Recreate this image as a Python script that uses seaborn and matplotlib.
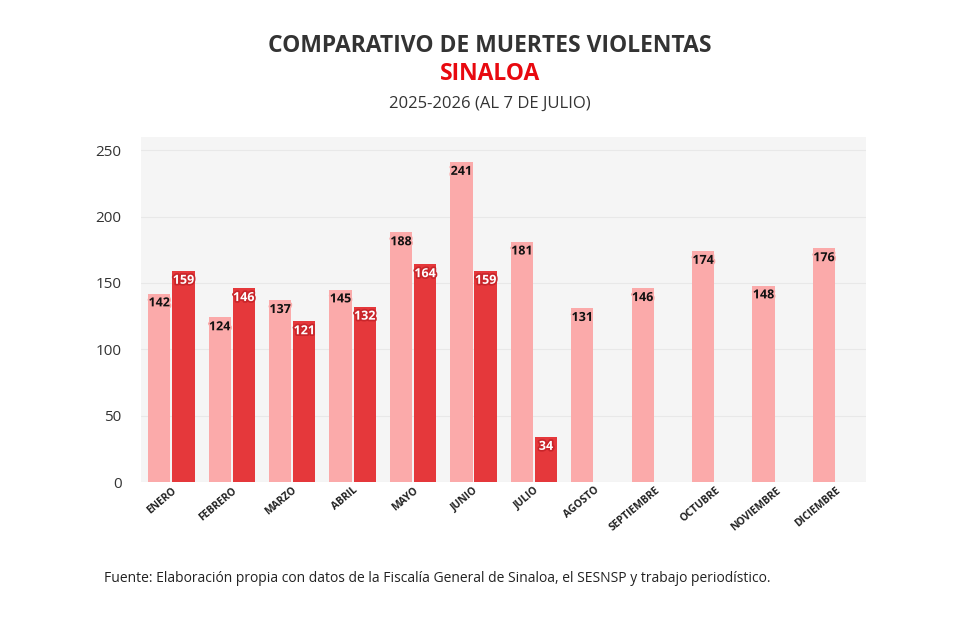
import numpy as np
import pandas as pd
import matplotlib.pyplot as plt
import matplotlib.patheffects as pe
import seaborn as sns

meses = ["ENERO", "FEBRERO", "MARZO", "ABRIL", "MAYO", "JUNIO", "JULIO",
         "AGOSTO", "SEPTIEMBRE", "OCTUBRE", "NOVIEMBRE", "DICIEMBRE"]
v2025 = [142, 124, 137, 145, 188, 241, 181, 131, 146, 174, 148, 176]
v2026 = [159, 146, 121, 132, 164, 159, 34]

df = pd.DataFrame({
    "mes": meses + meses[:len(v2026)],
    "anio": ["2025"] * len(v2025) + ["2026"] * len(v2026),
    "valor": v2025 + v2026,
})

sns.set_theme(style="white")
plt.rcParams["font.family"] = ["Open Sans", "DejaVu Sans"]

fig = plt.figure(figsize=(9.8, 6.19), dpi=100)
ax = fig.add_axes([0.144, 0.221, 0.74, 0.558])
ax.set_facecolor("#f5f5f5")

colores = {"2025": "#fbaaaa", "2026": "#e5383b"}
sns.barplot(data=df, x="mes", y="valor", hue="anio", order=meses,
            hue_order=["2025", "2026"], palette=colores, dodge=True,
            width=0.8, gap=0.08, legend=False, ax=ax, edgecolor="none",
            saturation=1)

ax.set_ylim(0, 260)
ax.set_xlim(-0.5, 11.5)
ax.set_yticks([0, 50, 100, 150, 200, 250])
ax.yaxis.grid(True, color="#e8e8e8", lw=0.8)
ax.set_axisbelow(True)
for s in ax.spines.values():
    s.set_visible(False)
ax.set_xlabel("")
ax.set_ylabel("")
ax.tick_params(axis="y", labelsize=11, colors="#333333", length=0, pad=14)
ax.tick_params(axis="x", length=0, pad=2)
plt.setp(ax.get_xticklabels(), rotation=40, ha="right", rotation_mode="anchor",
         fontsize=7.5, fontweight="bold", color="#222222")

for cont, anio in zip(ax.containers, ["2025", "2026"]):
    for bar in cont:
        h = bar.get_height()
        if np.isnan(h) or h == 0:
            continue
        x = bar.get_x() + bar.get_width() / 2
        if anio == "2025":
            txt, stroke = "#111111", "#fbaaaa"
        else:
            txt, stroke = "white", "#c9252a"
        ax.text(x, h - 7, f"{int(h)}", ha="center", va="center", fontsize=9,
                fontweight="bold", color=txt,
                path_effects=[pe.withStroke(linewidth=2.5, foreground=stroke)])

fig.text(0.5, 0.925, "COMPARATIVO DE MUERTES VIOLENTAS", ha="center", va="center",
         fontsize=16.5, fontweight="bold", color="#333333")
fig.text(0.5, 0.881, "SINALOA", ha="center", va="center",
         fontsize=16.5, fontweight="bold", color="#e8090f")
fig.text(0.5, 0.832, "2025-2026 (AL 7 DE JULIO)", ha="center", va="center",
         fontsize=12, color="#333333")
fig.text(0.106, 0.066, "Fuente: Elaboración propia con datos de la Fiscalía General de Sinaloa, el SESNSP y trabajo periodístico.",
         ha="left", va="center", fontsize=10, color="#222222")

fig.savefig("out.png", dpi=100, facecolor="white")
